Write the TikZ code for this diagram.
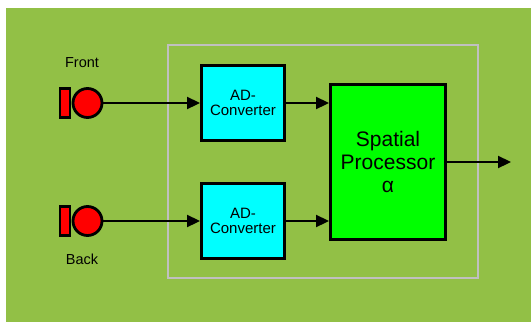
\documentclass[tikz,border=0pt]{standalone}
\usepackage{fontspec}
\setmainfont{Liberation Sans}
\usetikzlibrary{arrows.meta}
\definecolor{bggreen}{RGB}{146,192,70}
\definecolor{framegray}{RGB}{192,192,192}
\definecolor{adcyan}{RGB}{0,255,255}
\definecolor{procgreen}{RGB}{0,255,0}
\definecolor{micred}{RGB}{255,0,0}
\tikzset{
  adbox/.style={draw=black, line width=3pt, fill=adcyan, minimum width=83pt, minimum height=75pt, inner sep=0pt, align=center, font=\fontsize{15}{15}\selectfont},
  procbox/.style={draw=black, line width=3pt, fill=procgreen, minimum width=115pt, minimum height=155pt, inner sep=0pt, align=center, font=\fontsize{21}{23}\selectfont},
  micball/.style={circle, draw=black, line width=2.8pt, fill=micred, minimum size=29pt, inner sep=0pt},
  micbase/.style={rectangle, draw=black, line width=2.8pt, fill=micred, minimum width=10pt, minimum height=29pt, inner sep=0pt},
  sig/.style={line width=2.3pt, -{Triangle[length=13pt,width=12pt]}},
  lbl/.style={font=\fontsize{14.5}{15}\selectfont, anchor=base, inner sep=0pt}
}
\begin{document}
\begin{tikzpicture}[x=1pt,y=-1pt]
\useasboundingbox (0,0) rectangle (531,322);
\fill[bggreen] (6,8) rectangle (531,322);
\draw[framegray, line width=2.5pt] (168,45) rectangle (478,278);

\node[micbase] (baseF) at (65,103) {};
\node[micball] (micF) at (87.5,103) {};
\node[micbase] (baseB) at (65,221) {};
\node[micball] (micB) at (87.5,221) {};
\node[lbl] (front) at (82,67.5) {Front};
\node[lbl] (back) at (82,264) {Back};

\node[adbox] (adF) at (243,103) {AD-\\Converter};
\node[adbox] (adB) at (243,221) {AD-\\Converter};
\node[procbox] (proc) at (388,162) {Spatial\\Processor\\α};
\coordinate (out) at (511,162);

\draw[sig] (micF.east) -- (adF.west);
\draw[sig] (micB.east) -- (adB.west);
\draw[sig] (adF.east) -- (adF.east -| proc.west);
\draw[sig] (adB.east) -- (adB.east -| proc.west);
\draw[sig] (proc.east) -- (out);
\end{tikzpicture}
\end{document}
